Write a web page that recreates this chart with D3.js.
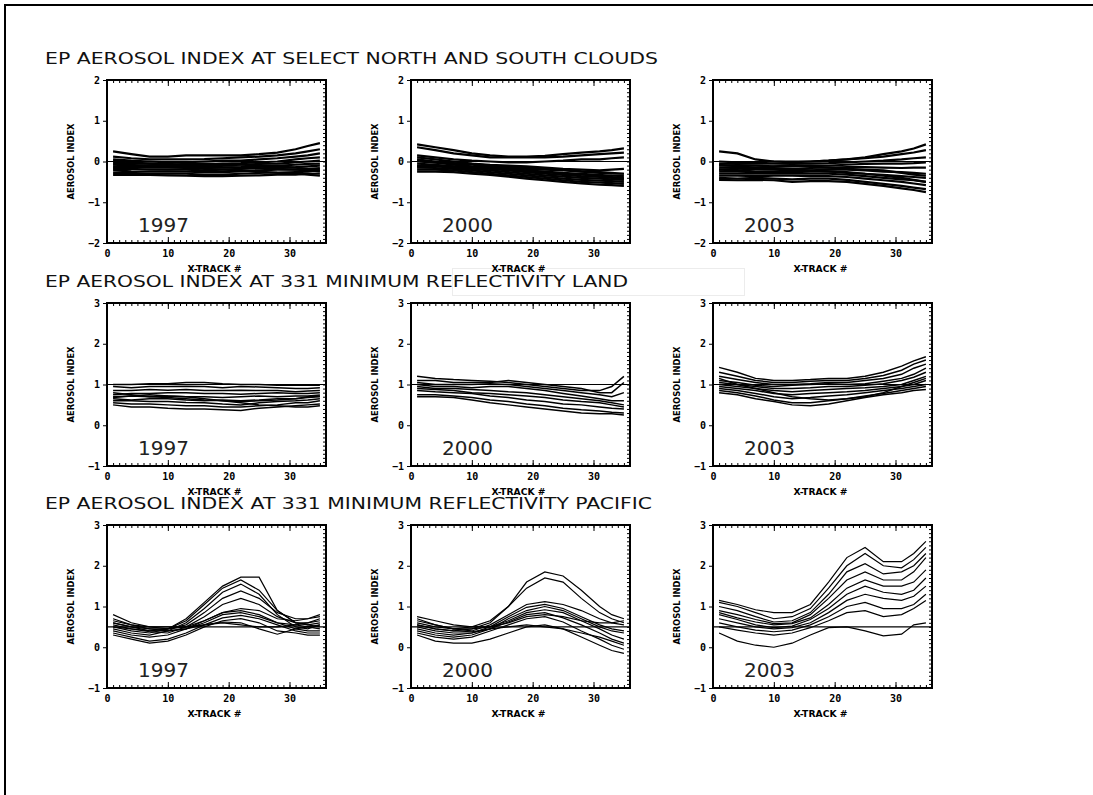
<!DOCTYPE html>
<html>
<head>
<meta charset="utf-8">
<script src="https://cdn.jsdelivr.net/npm/d3@7"></script>
<style>
  html, body { margin: 0; background: #fff; overflow: hidden; }
  svg { display: block; }
</style>
</head>
<body>
<div id="chart"></div>
<script>
// x-track positions where each trace is sampled
var xTrack = [1, 4, 7, 10, 13, 16, 19, 22, 25, 28, 31, 33, 35];

var rowTitles = [
  "EP AEROSOL INDEX AT SELECT NORTH AND SOUTH CLOUDS",
  "EP AEROSOL INDEX AT 331 MINIMUM REFLECTIVITY LAND",
  "EP AEROSOL INDEX AT 331 MINIMUM REFLECTIVITY PACIFIC"
];
var years = ["1997", "2000", "2003"];
var xTicks = [0, 10, 20, 30];
var yTicksClouds = [-2, -1, 0, 1, 2];
var yTicksSurface = [-1, 0, 1, 2, 3];
var refLevels = [0, 1, 0.5];

// Clouds
var clouds1997 = [
  [0.25, 0.18, 0.12, 0.12, 0.15, 0.15, 0.15, 0.15, 0.18, 0.22, 0.30, 0.38, 0.45],
  [0.12, 0.08, 0.05, 0.05, 0.05, 0.06, 0.08, 0.10, 0.12, 0.15, 0.20, 0.25, 0.30],
  [0.05, 0.02, 0.00, -0.02, -0.02, 0.00, 0.02, 0.02, 0.05, 0.08, 0.12, 0.15, 0.20],
  [-0.02, -0.05, -0.05, -0.06, -0.08, -0.08, -0.05, -0.04, -0.02, 0.00, 0.05, 0.08, 0.10],
  [-0.08, -0.10, -0.10, -0.10, -0.12, -0.10, -0.10, -0.08, -0.06, -0.05, -0.02, 0.00, 0.02],
  [-0.12, -0.14, -0.15, -0.15, -0.16, -0.16, -0.15, -0.14, -0.12, -0.10, -0.08, -0.06, -0.05],
  [-0.18, -0.18, -0.20, -0.20, -0.20, -0.22, -0.20, -0.18, -0.17, -0.15, -0.14, -0.12, -0.10],
  [-0.22, -0.24, -0.25, -0.24, -0.25, -0.26, -0.26, -0.24, -0.22, -0.20, -0.20, -0.18, -0.16],
  [-0.28, -0.28, -0.30, -0.30, -0.30, -0.32, -0.32, -0.30, -0.28, -0.27, -0.26, -0.25, -0.22],
  [-0.33, -0.32, -0.33, -0.34, -0.35, -0.36, -0.36, -0.35, -0.34, -0.32, -0.32, -0.30, -0.30],
  [-0.05, -0.08, -0.12, -0.10, -0.15, -0.18, -0.20, -0.22, -0.25, -0.28, -0.30, -0.32, -0.35],
  [0.02, -0.02, -0.05, -0.08, -0.10, -0.12, -0.14, -0.15, -0.16, -0.18, -0.20, -0.22, -0.25],
  [-0.15, -0.12, -0.10, -0.08, -0.06, -0.05, -0.06, -0.08, -0.10, -0.12, -0.15, -0.18, -0.20]
];
var clouds2000 = [
  [0.42, 0.35, 0.28, 0.20, 0.15, 0.12, 0.12, 0.14, 0.18, 0.22, 0.25, 0.28, 0.32],
  [0.35, 0.28, 0.20, 0.15, 0.10, 0.10, 0.10, 0.10, 0.12, 0.15, 0.18, 0.20, 0.22],
  [0.15, 0.10, 0.05, 0.02, 0.00, -0.02, -0.02, 0.00, 0.02, 0.05, 0.05, 0.08, 0.10],
  [0.10, 0.05, 0.00, -0.05, -0.08, -0.10, -0.12, -0.15, -0.18, -0.20, -0.22, -0.20, -0.18],
  [0.05, 0.00, -0.05, -0.08, -0.12, -0.15, -0.18, -0.20, -0.22, -0.25, -0.28, -0.30, -0.30],
  [0.00, -0.03, -0.08, -0.12, -0.15, -0.18, -0.22, -0.25, -0.28, -0.30, -0.33, -0.35, -0.36],
  [-0.05, -0.08, -0.12, -0.15, -0.18, -0.22, -0.26, -0.30, -0.33, -0.36, -0.38, -0.40, -0.40],
  [-0.10, -0.12, -0.15, -0.18, -0.22, -0.26, -0.30, -0.34, -0.37, -0.40, -0.42, -0.44, -0.45],
  [-0.15, -0.16, -0.18, -0.22, -0.26, -0.30, -0.34, -0.38, -0.42, -0.45, -0.47, -0.48, -0.50],
  [-0.20, -0.20, -0.22, -0.26, -0.30, -0.34, -0.38, -0.42, -0.46, -0.50, -0.52, -0.53, -0.55],
  [-0.25, -0.25, -0.26, -0.30, -0.33, -0.37, -0.42, -0.46, -0.50, -0.54, -0.57, -0.58, -0.60],
  [0.02, -0.02, -0.04, -0.06, -0.10, -0.12, -0.15, -0.18, -0.20, -0.24, -0.26, -0.28, -0.30],
  [-0.12, -0.10, -0.12, -0.14, -0.16, -0.20, -0.24, -0.26, -0.30, -0.32, -0.35, -0.38, -0.42]
];
var clouds2003 = [
  [0.25, 0.20, 0.05, 0.00, -0.02, 0.00, 0.02, 0.05, 0.10, 0.18, 0.25, 0.32, 0.42],
  [0.00, -0.02, -0.02, 0.00, 0.00, 0.00, 0.02, 0.05, 0.08, 0.12, 0.18, 0.22, 0.28],
  [-0.05, -0.06, -0.05, -0.05, -0.06, -0.05, -0.04, -0.02, 0.00, 0.02, 0.05, 0.08, 0.10],
  [-0.10, -0.10, -0.10, -0.12, -0.12, -0.10, -0.10, -0.08, -0.06, -0.05, -0.05, -0.04, -0.02],
  [-0.15, -0.15, -0.16, -0.16, -0.18, -0.16, -0.15, -0.14, -0.14, -0.15, -0.16, -0.15, -0.15],
  [-0.20, -0.22, -0.20, -0.20, -0.22, -0.22, -0.20, -0.20, -0.22, -0.25, -0.26, -0.28, -0.30],
  [-0.25, -0.25, -0.26, -0.25, -0.26, -0.25, -0.25, -0.26, -0.30, -0.33, -0.36, -0.38, -0.40],
  [-0.30, -0.30, -0.30, -0.30, -0.30, -0.30, -0.30, -0.32, -0.36, -0.40, -0.44, -0.46, -0.50],
  [-0.35, -0.35, -0.36, -0.35, -0.35, -0.36, -0.36, -0.38, -0.42, -0.46, -0.50, -0.54, -0.58],
  [-0.40, -0.42, -0.40, -0.42, -0.44, -0.42, -0.42, -0.45, -0.50, -0.55, -0.60, -0.64, -0.68],
  [-0.45, -0.46, -0.45, -0.46, -0.50, -0.48, -0.48, -0.50, -0.55, -0.60, -0.66, -0.70, -0.75],
  [-0.08, -0.12, -0.15, -0.18, -0.20, -0.22, -0.24, -0.28, -0.30, -0.35, -0.40, -0.45, -0.50],
  [-0.20, -0.18, -0.15, -0.12, -0.10, -0.12, -0.15, -0.18, -0.20, -0.22, -0.28, -0.32, -0.35]
];

// Land
var land1997 = [
  [1.00, 1.00, 1.02, 1.02, 1.05, 1.05, 1.02, 1.00, 1.00, 0.98, 0.98, 0.98, 0.98],
  [0.95, 0.92, 0.95, 0.95, 0.96, 0.95, 0.92, 0.95, 0.94, 0.92, 0.90, 0.90, 0.92],
  [0.85, 0.85, 0.88, 0.86, 0.88, 0.85, 0.85, 0.86, 0.85, 0.85, 0.82, 0.84, 0.85],
  [0.75, 0.78, 0.78, 0.80, 0.80, 0.78, 0.78, 0.76, 0.78, 0.80, 0.78, 0.78, 0.80],
  [0.70, 0.72, 0.70, 0.72, 0.70, 0.70, 0.68, 0.70, 0.72, 0.70, 0.72, 0.72, 0.74],
  [0.65, 0.62, 0.65, 0.65, 0.62, 0.60, 0.62, 0.60, 0.62, 0.65, 0.65, 0.68, 0.70],
  [0.60, 0.60, 0.58, 0.58, 0.56, 0.55, 0.52, 0.50, 0.55, 0.58, 0.60, 0.62, 0.65],
  [0.55, 0.52, 0.52, 0.50, 0.48, 0.48, 0.45, 0.45, 0.48, 0.50, 0.55, 0.55, 0.60],
  [0.50, 0.45, 0.45, 0.42, 0.40, 0.40, 0.38, 0.36, 0.42, 0.45, 0.48, 0.50, 0.52],
  [0.68, 0.72, 0.75, 0.72, 0.70, 0.65, 0.60, 0.58, 0.60, 0.62, 0.65, 0.70, 0.72],
  [0.80, 0.75, 0.70, 0.68, 0.65, 0.62, 0.60, 0.55, 0.50, 0.48, 0.45, 0.45, 0.48]
];
var land2000 = [
  [1.20, 1.15, 1.12, 1.10, 1.08, 1.05, 1.00, 0.95, 0.90, 0.85, 0.85, 0.95, 1.20],
  [1.10, 1.10, 1.05, 1.05, 1.05, 1.10, 1.05, 1.00, 0.95, 0.90, 0.80, 0.80, 1.05],
  [1.05, 1.00, 1.00, 1.00, 1.02, 1.00, 0.95, 0.90, 0.85, 0.80, 0.75, 0.70, 0.80],
  [1.00, 0.95, 0.95, 0.92, 0.95, 0.95, 0.90, 0.85, 0.78, 0.72, 0.65, 0.60, 0.60],
  [0.95, 0.90, 0.90, 0.88, 0.85, 0.82, 0.80, 0.75, 0.70, 0.65, 0.60, 0.55, 0.50],
  [0.90, 0.88, 0.85, 0.80, 0.78, 0.75, 0.72, 0.68, 0.62, 0.58, 0.55, 0.50, 0.45],
  [0.85, 0.82, 0.80, 0.78, 0.72, 0.68, 0.62, 0.58, 0.52, 0.50, 0.45, 0.42, 0.40],
  [0.75, 0.75, 0.72, 0.68, 0.62, 0.58, 0.52, 0.48, 0.42, 0.38, 0.35, 0.32, 0.30],
  [0.70, 0.70, 0.68, 0.62, 0.55, 0.50, 0.45, 0.40, 0.35, 0.30, 0.28, 0.28, 0.25]
];
var land2003 = [
  [1.42, 1.30, 1.15, 1.10, 1.10, 1.12, 1.15, 1.15, 1.20, 1.30, 1.45, 1.58, 1.68],
  [1.30, 1.20, 1.10, 1.05, 1.05, 1.08, 1.10, 1.10, 1.15, 1.22, 1.35, 1.50, 1.60],
  [1.20, 1.12, 1.05, 1.00, 1.00, 1.02, 1.05, 1.05, 1.10, 1.15, 1.25, 1.40, 1.50],
  [1.10, 1.05, 0.98, 0.95, 0.98, 1.00, 1.02, 1.00, 1.02, 1.08, 1.15, 1.25, 1.40],
  [1.05, 1.00, 0.95, 0.90, 0.90, 0.92, 0.95, 0.95, 0.98, 1.02, 1.10, 1.18, 1.30],
  [1.00, 0.95, 0.90, 0.85, 0.82, 0.85, 0.88, 0.90, 0.92, 0.95, 1.00, 1.10, 1.20],
  [0.95, 0.90, 0.85, 0.78, 0.75, 0.78, 0.80, 0.82, 0.85, 0.90, 0.95, 1.00, 1.10],
  [0.90, 0.85, 0.78, 0.70, 0.65, 0.68, 0.72, 0.75, 0.80, 0.85, 0.90, 0.95, 1.00],
  [0.85, 0.80, 0.72, 0.62, 0.55, 0.55, 0.60, 0.65, 0.72, 0.78, 0.85, 0.90, 0.95],
  [0.80, 0.75, 0.65, 0.58, 0.50, 0.48, 0.52, 0.60, 0.68, 0.75, 0.80, 0.85, 0.88],
  [1.15, 1.00, 0.90, 0.80, 0.70, 0.65, 0.62, 0.65, 0.70, 0.80, 0.95, 1.05, 1.15]
];

// Pacific
var pacific1997 = [
  [0.50, 0.40, 0.35, 0.45, 0.70, 1.10, 1.50, 1.72, 1.72, 0.90, 0.60, 0.55, 0.50],
  [0.60, 0.50, 0.40, 0.45, 0.65, 1.05, 1.45, 1.65, 1.40, 0.90, 0.60, 0.55, 0.60],
  [0.45, 0.35, 0.30, 0.40, 0.60, 0.95, 1.35, 1.55, 1.30, 0.80, 0.50, 0.45, 0.55],
  [0.70, 0.55, 0.45, 0.45, 0.55, 0.85, 1.20, 1.38, 1.20, 0.85, 0.70, 0.70, 0.75],
  [0.55, 0.45, 0.38, 0.35, 0.50, 0.75, 1.05, 1.20, 1.05, 0.75, 0.60, 0.60, 0.65],
  [0.80, 0.60, 0.50, 0.45, 0.50, 0.65, 0.85, 0.95, 0.90, 0.70, 0.65, 0.70, 0.80],
  [0.40, 0.30, 0.25, 0.30, 0.45, 0.65, 0.85, 0.90, 0.80, 0.60, 0.45, 0.40, 0.40],
  [0.60, 0.50, 0.45, 0.40, 0.45, 0.60, 0.80, 0.85, 0.75, 0.60, 0.55, 0.60, 0.70],
  [0.35, 0.25, 0.15, 0.20, 0.35, 0.55, 0.72, 0.78, 0.70, 0.55, 0.40, 0.35, 0.35],
  [0.30, 0.20, 0.10, 0.15, 0.30, 0.50, 0.65, 0.70, 0.60, 0.40, 0.35, 0.30, 0.30],
  [0.50, 0.45, 0.40, 0.40, 0.45, 0.55, 0.62, 0.60, 0.45, 0.32, 0.45, 0.50, 0.45],
  [0.65, 0.55, 0.50, 0.50, 0.50, 0.55, 0.60, 0.55, 0.50, 0.50, 0.55, 0.50, 0.55]
];
var pacific2000 = [
  [0.55, 0.45, 0.40, 0.45, 0.60, 1.00, 1.60, 1.85, 1.75, 1.40, 1.00, 0.80, 0.70],
  [0.60, 0.50, 0.45, 0.50, 0.65, 1.00, 1.45, 1.70, 1.60, 1.20, 0.85, 0.70, 0.60],
  [0.70, 0.55, 0.45, 0.40, 0.55, 0.80, 1.05, 1.12, 1.05, 0.90, 0.70, 0.60, 0.55],
  [0.45, 0.35, 0.30, 0.35, 0.50, 0.75, 0.98, 1.05, 0.95, 0.75, 0.55, 0.45, 0.40],
  [0.50, 0.40, 0.35, 0.35, 0.45, 0.70, 0.90, 1.00, 0.90, 0.70, 0.50, 0.40, 0.35],
  [0.65, 0.55, 0.45, 0.45, 0.50, 0.65, 0.85, 0.92, 0.85, 0.65, 0.45, 0.30, 0.20],
  [0.40, 0.30, 0.25, 0.30, 0.45, 0.62, 0.80, 0.85, 0.72, 0.55, 0.35, 0.20, 0.10],
  [0.35, 0.25, 0.20, 0.25, 0.40, 0.55, 0.70, 0.75, 0.62, 0.40, 0.20, 0.05, -0.05],
  [0.30, 0.15, 0.10, 0.10, 0.20, 0.35, 0.50, 0.55, 0.45, 0.25, 0.05, -0.08, -0.15],
  [0.55, 0.45, 0.40, 0.38, 0.45, 0.50, 0.55, 0.50, 0.45, 0.35, 0.25, 0.15, 0.05],
  [0.75, 0.65, 0.55, 0.50, 0.50, 0.60, 0.75, 0.80, 0.75, 0.65, 0.60, 0.60, 0.65]
];
var pacific2003 = [
  [1.15, 1.05, 0.92, 0.85, 0.85, 1.05, 1.60, 2.20, 2.45, 2.10, 2.10, 2.30, 2.60],
  [1.10, 1.00, 0.85, 0.70, 0.75, 0.95, 1.45, 2.00, 2.30, 2.00, 1.95, 2.15, 2.45],
  [1.00, 0.90, 0.75, 0.62, 0.65, 0.85, 1.30, 1.85, 2.05, 1.80, 1.85, 2.00, 2.30],
  [0.90, 0.80, 0.68, 0.58, 0.60, 0.80, 1.20, 1.65, 1.85, 1.65, 1.65, 1.85, 2.20],
  [0.85, 0.72, 0.62, 0.55, 0.58, 0.72, 1.05, 1.45, 1.65, 1.50, 1.50, 1.60, 1.90],
  [0.80, 0.68, 0.55, 0.48, 0.52, 0.68, 0.95, 1.30, 1.50, 1.35, 1.30, 1.40, 1.70],
  [0.70, 0.60, 0.50, 0.45, 0.48, 0.60, 0.85, 1.15, 1.30, 1.20, 1.15, 1.25, 1.50],
  [0.60, 0.50, 0.42, 0.38, 0.42, 0.55, 0.75, 1.00, 1.10, 0.95, 0.95, 1.05, 1.30],
  [0.50, 0.42, 0.35, 0.30, 0.35, 0.48, 0.65, 0.85, 0.90, 0.75, 0.80, 0.95, 1.15],
  [0.35, 0.15, 0.05, 0.00, 0.10, 0.30, 0.48, 0.50, 0.40, 0.28, 0.32, 0.55, 0.60]
];

var rowSeries = [
  [clouds1997, clouds2000, clouds2003],
  [land1997, land2000, land2003],
  [pacific1997, pacific2000, pacific2003]
];
var rowYTicks = [yTicksClouds, yTicksSurface, yTicksSurface];

var width = 1093,
  height = 795;
var colLeft = [107, 411, 713],
  rowTop = [80, 303, 525];
var plotW = 219,
  plotH = 163;
var titleLengths = [613, 583, 607];
var traceWidth = [2.2, 1.5, 1.2];
var tickFont = "'DejaVu Sans Mono', monospace";

//Create SVG element
var svg = d3.select("#chart")
  .append("svg")
  .attr("width", width)
  .attr("height", height);

// outer frame: only the top and left edges are in the picture
svg.append("line")
  .attr("x1", 4).attr("x2", width)
  .attr("y1", 5).attr("y2", 5)
  .attr("stroke", "#000")
  .attr("stroke-width", 2);
svg.append("line")
  .attr("x1", 5).attr("x2", 5)
  .attr("y1", 4).attr("y2", height)
  .attr("stroke", "#000")
  .attr("stroke-width", 2);

// faint box left over around the second title
svg.append("rect")
  .attr("x", 452.5)
  .attr("y", 268.5)
  .attr("width", 292)
  .attr("height", 27)
  .attr("fill", "none")
  .attr("stroke", "#ececec");

rowSeries.forEach(function(row, r) {
  var ticks = rowYTicks[r];

  // Row title
  svg.append("text")
    .attr("x", 45)
    .attr("y", rowTop[r] - 16)
    .attr("font-family", "'DejaVu Sans', sans-serif")
    .attr("font-size", "15px")
    .attr("textLength", titleLengths[r])
    .attr("lengthAdjust", "spacingAndGlyphs")
    .attr("fill", "#111")
    .text(rowTitles[r]);

  row.forEach(function(traces, c) {
    var g = svg.append("g")
      .attr("transform", `translate(${colLeft[c]},${rowTop[r]})`);

    var xScale = d3.scaleLinear()
      .domain([0, 36])
      .range([0, plotW]);

    var yScale = d3.scaleLinear()
      .domain([ticks[0], ticks[ticks.length - 1]])
      .range([plotH, 0]);

    var line = d3.line()
      .x(function(d, i) { return xScale(xTrack[i]); })
      .y(function(d) { return yScale(d); });

    // traces
    g.selectAll("traces")
      .data(traces)
      .enter()
      .append("path")
      .attr("d", line)
      .attr("fill", "none")
      .attr("stroke", "#000")
      .attr("stroke-width", traceWidth[r]);

    // reference level
    g.append("line")
      .attr("x1", 0)
      .attr("x2", plotW)
      .attr("y1", yScale(refLevels[r]))
      .attr("y2", yScale(refLevels[r]))
      .attr("stroke", "#000")
      .attr("stroke-width", 1.2);

    // minor ticks, top and bottom (pointing inward)
    var minorX = d3.range(1, 36);
    g.append("g")
      .call(d3.axisBottom(xScale).tickValues(minorX).tickSize(3).tickFormat("").tickSizeOuter(0))
      .call(function(a) { a.select(".domain").remove(); });
    g.append("g")
      .attr("transform", `translate(0,${plotH})`)
      .call(d3.axisTop(xScale).tickValues(minorX).tickSize(3).tickFormat("").tickSizeOuter(0))
      .call(function(a) { a.select(".domain").remove(); });

    // major ticks, top
    g.append("g")
      .call(d3.axisBottom(xScale).tickValues(xTicks).tickSize(6).tickFormat("").tickSizeOuter(0))
      .call(function(a) { a.select(".domain").remove(); });

    // Render X axis
    g.append("g")
      .attr("transform", `translate(0,${plotH})`)
      .attr("class", "x-axis")
      .call(d3.axisBottom(xScale).tickValues(xTicks).tickSize(-6).tickPadding(7).tickSizeOuter(0))
      .call(function(a) { a.select(".domain").remove(); })
      .selectAll("text")
      .attr("font-family", tickFont)
      .attr("font-weight", "bold")
      .attr("font-size", "10px");

    // right side, dense minor ticks
    g.append("g")
      .attr("transform", `translate(${plotW},0)`)
      .call(d3.axisLeft(yScale).tickValues(d3.range(ticks[0] * 10, ticks[ticks.length - 1] * 10 + 1).map(function(v) { return v / 10; })).tickSize(3).tickFormat("").tickSizeOuter(0))
      .call(function(a) { a.select(".domain").remove(); });

    // Render Y axis
    g.append("g")
      .attr("class", "y-axis")
      .call(d3.axisLeft(yScale).tickValues(ticks).tickSize(4).tickPadding(3).tickFormat(d3.format("d")).tickSizeOuter(0))
      .call(function(a) { a.select(".domain").remove(); })
      .selectAll("text")
      .attr("font-family", tickFont)
      .attr("font-weight", "bold")
      .attr("font-size", "10px");

    g.selectAll(".tick line")
      .attr("stroke", "#000")
      .attr("stroke-width", 1);

    // plot box
    g.append("rect")
      .attr("width", plotW)
      .attr("height", plotH)
      .attr("fill", "none")
      .attr("stroke", "#000")
      .attr("stroke-width", 2);

    // axis titles
    g.append("text")
      .attr("transform", `translate(-33,${plotH / 2}) rotate(-90)`)
      .attr("text-anchor", "middle")
      .attr("font-family", "'DejaVu Sans Condensed', sans-serif")
      .attr("font-weight", "bold")
      .attr("font-size", "8px")
      .attr("textLength", 76)
      .attr("lengthAdjust", "spacingAndGlyphs")
      .text("AEROSOL INDEX");

    g.append("text")
      .attr("x", plotW / 2 - 2)
      .attr("y", plotH + 29)
      .attr("text-anchor", "middle")
      .attr("font-family", "'DejaVu Sans Condensed', sans-serif")
      .attr("font-weight", "bold")
      .attr("font-size", "8px")
      .attr("textLength", 54)
      .attr("lengthAdjust", "spacingAndGlyphs")
      .text("X-TRACK #");

    // year label
    g.append("text")
      .attr("x", 31)
      .attr("y", plotH - 11)
      .attr("font-family", "'DejaVu Sans', sans-serif")
      .attr("font-size", "20px")
      .attr("fill", "#222")
      .text(years[c]);
  });
});
</script>
</body>
</html>
